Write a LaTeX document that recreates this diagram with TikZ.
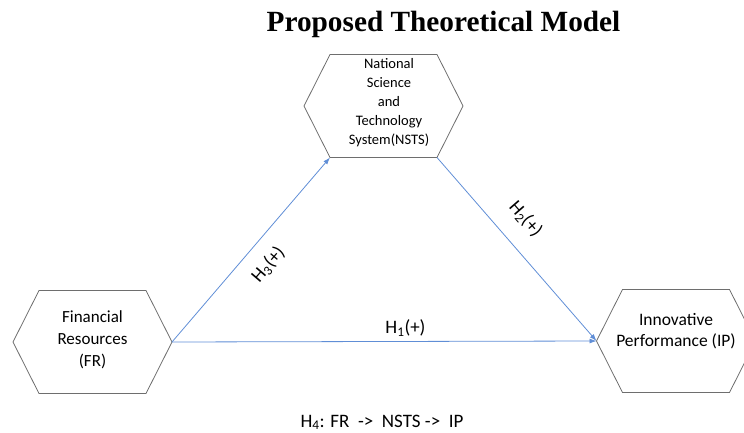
\documentclass[tikz,border=0pt]{standalone}
\usepackage{fontspec}
\setmainfont{Carlito}
\newfontfamily\titlefont{Liberation Serif}
\usetikzlibrary{arrows.meta}

\definecolor{linkblue}{RGB}{96,142,214}
\definecolor{hexgray}{RGB}{110,110,110}

\begin{document}
\begin{tikzpicture}[x=1pt, y=-1pt,
    hexline/.style={draw=hexgray, line width=0.8pt},
    link/.style={draw=linkblue, line width=0.8pt, -{Latex[length=7pt,width=5pt]}},
    hexlabel/.style={align=center, inner sep=0pt},
    hlabel/.style={font=\fontsize{19}{21}\selectfont, inner sep=0pt},
    hexa/.pic={
        \draw[hexline] (-79.5,0) coordinate (-w)
            -- (-53.5,-51.5) coordinate (-tl)
            -- (53.5,-51.5) coordinate (-tr)
            -- (79.5,0) coordinate (-e)
            -- (53.5,51.5) coordinate (-br)
            -- (-53.5,51.5) coordinate (-bl)
            -- cycle;
    }
]
    \useasboundingbox (0,0) rectangle (744,433);%page frame

    \node[font=\titlefont\fontsize{29.3}{31}\selectfont\bfseries, anchor=base] (title) at (443.5,32) {Proposed Theoretical Model};

    \pic (ns) at (383.5,106) {hexa};
    \pic (fr) at (92.5,342) {hexa};
    \pic (ip) at (676,341) {hexa};

    \node[hexlabel, font=\fontsize{14.5}{19}\selectfont] (nstext) at (389,102.5) {National\\Science\\and\\Technology\\System(NSTS)};
    \node[hexlabel, font=\fontsize{17}{22}\selectfont] (frtext) at (92.5,340) {Financial\\Resources\\(FR)};
    \node[hexlabel, font=\fontsize{17.5}{21}\selectfont] (iptext) at (676,331) {Innovative\\Performance (IP)};

    \draw[link] (fr-e) -- node[hlabel, midway, sloped, below=14pt] (h3) {H\textsubscript{3}(+)} (ns-bl);
    \draw[link] (ns-br) -- node[hlabel, pos=0.43, sloped, above=18pt] (h2) {H\textsubscript{2}(+)} (ip-w);
    \draw[link] (fr-e) -- node[hlabel, pos=0.55, above=5pt] (h1) {H\textsubscript{1}(+)} (ip-w);

    \node[hlabel, anchor=base] (h4) at (382,427) {H\textsubscript{4}: FR ~->~ NSTS -> ~IP};
\end{tikzpicture}
\end{document}
